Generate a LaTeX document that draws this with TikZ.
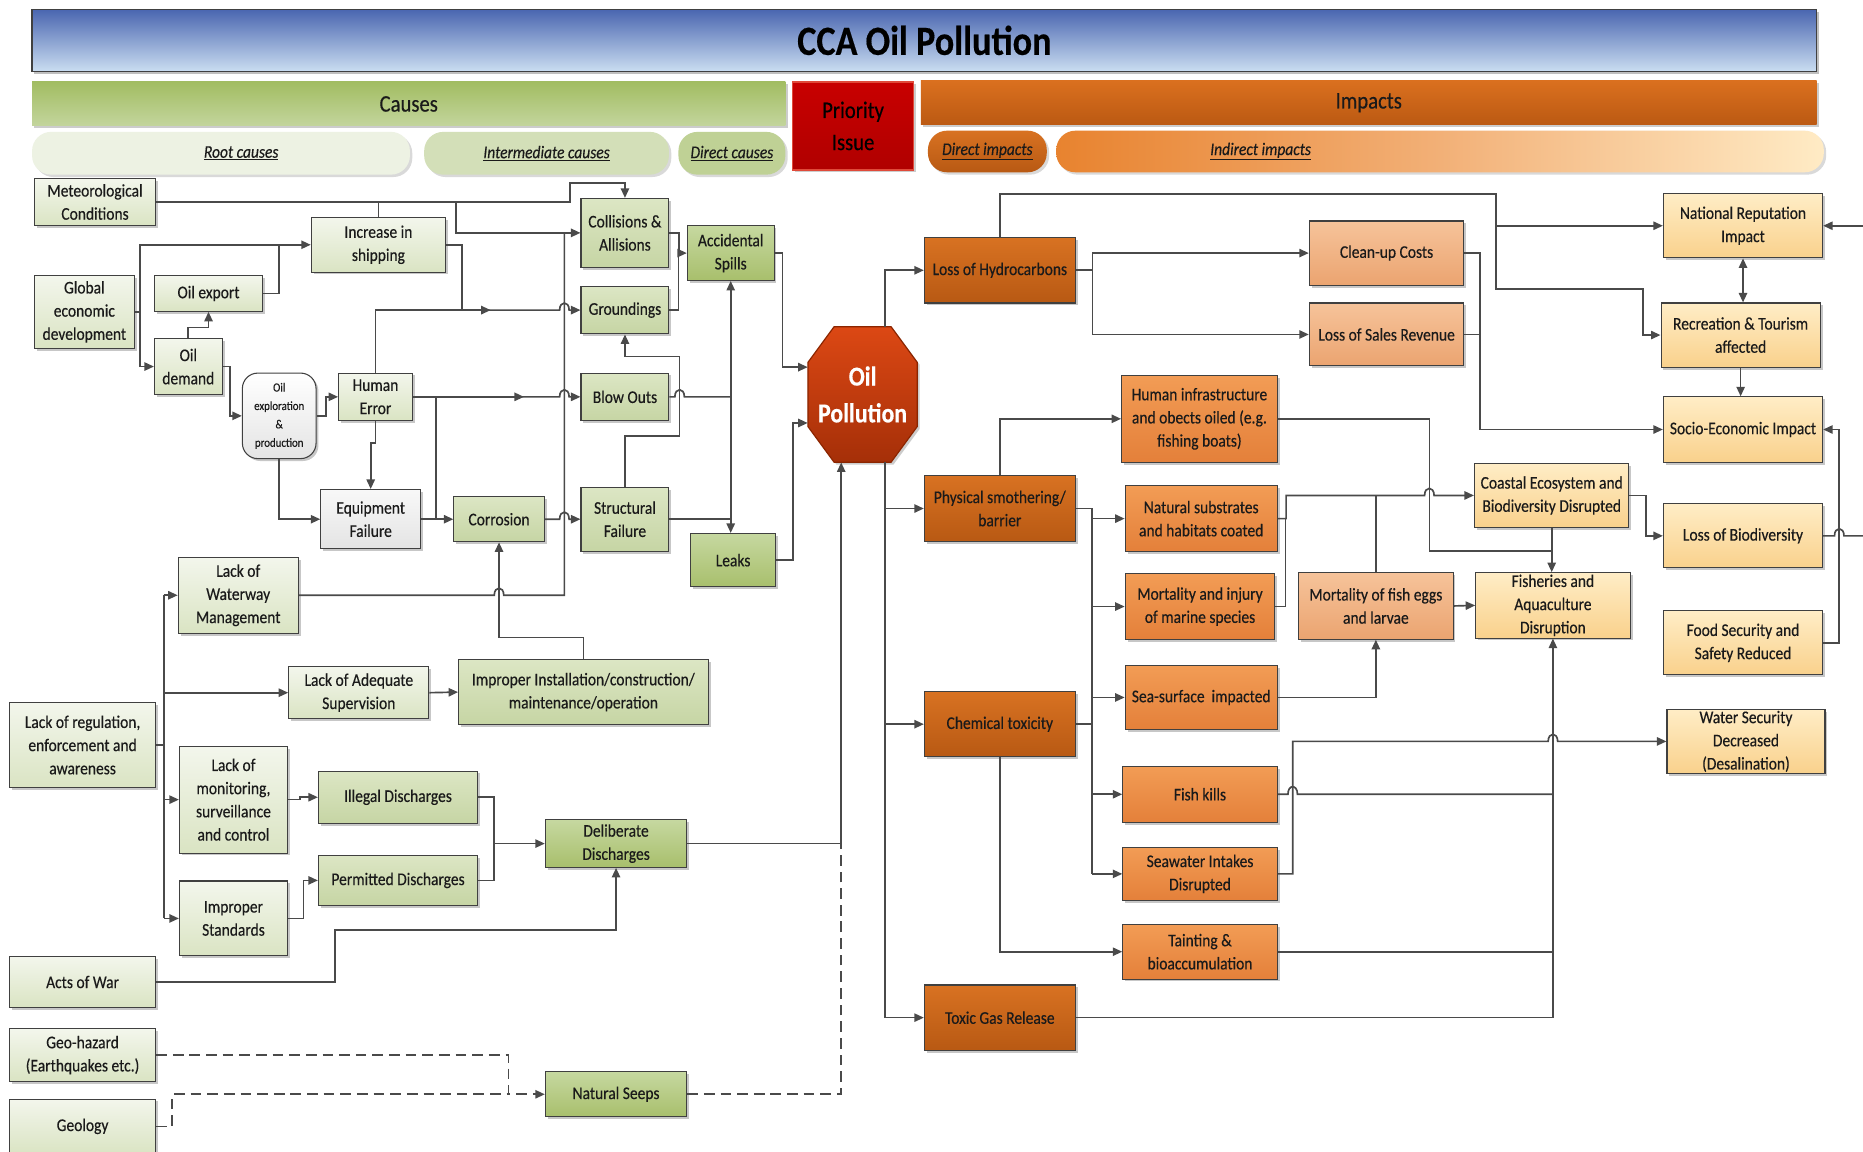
\documentclass[tikz,border=0pt]{standalone}
\usepackage{fontspec}
\setmainfont{Carlito}[FakeStretch=0.87,FakeBold=0.35]
\usetikzlibrary{arrows.meta,shadows}
\definecolor{bord}{HTML}{404040}
\definecolor{lin}{HTML}{4A4A4A}
\definecolor{txt}{HTML}{1A1A1A}
\definecolor{rootT}{HTML}{F3F6EC}
\definecolor{rootB}{HTML}{DAE4C3}
\definecolor{interT}{HTML}{DCE6C4}
\definecolor{interB}{HTML}{C6D5A4}
\definecolor{dirT}{HTML}{C6D8A0}
\definecolor{dirB}{HTML}{A8BF6C}
\definecolor{grayT}{HTML}{F8F8F8}
\definecolor{grayB}{HTML}{E4E4E4}
\definecolor{dimpT}{HTML}{D87222}
\definecolor{dimpB}{HTML}{B85913}
\definecolor{medT}{HTML}{F29C55}
\definecolor{medB}{HTML}{E4803A}
\definecolor{lgtT}{HTML}{F6C39A}
\definecolor{lgtB}{HTML}{EBA470}
\definecolor{yelT}{HTML}{FFEDC6}
\definecolor{yelB}{HTML}{F9D18C}
\definecolor{titT}{HTML}{4A66B0}
\definecolor{titB}{HTML}{CADDF1}
\definecolor{causT}{HTML}{A2BD62}
\definecolor{causB}{HTML}{C3D59D}
\definecolor{impT}{HTML}{DA701F}
\definecolor{impB}{HTML}{BB5912}
\definecolor{priT}{HTML}{C80000}
\definecolor{priB}{HTML}{B00000}
\definecolor{pribord}{HTML}{E04A3A}
\definecolor{pillroot}{HTML}{EDF2E3}
\definecolor{pillint}{HTML}{D3DFB8}
\definecolor{pilldir}{HTML}{BFD195}
\definecolor{indL}{HTML}{E8832F}
\definecolor{indM}{HTML}{F2B077}
\definecolor{indR}{HTML}{FFEBC5}
\definecolor{octT}{HTML}{DC4814}
\definecolor{octB}{HTML}{A52F08}
\definecolor{octbord}{HTML}{8B2500}
\newcommand{\boxfnt}{\fontsize{15}{19.5}\selectfont}
\newcommand{\smallfnt}{\fontsize{10.5}{15.5}\selectfont}
\tikzset{
  base/.style={draw=bord, line width=0.9pt, align=center, inner sep=1pt, text=txt, font=\boxfnt,
    drop shadow={shadow xshift=2pt, shadow yshift=-2pt, opacity=0.22, fill=black}},
  sz/.style 2 args={minimum width=#1pt, minimum height=#2pt},
  root/.style={base, top color=rootT, bottom color=rootB},
  inter/.style={base, top color=interT, bottom color=interB},
  direct/.style={base, top color=dirT, bottom color=dirB},
  grayb/.style={base, top color=grayT, bottom color=grayB},
  dimp/.style={base, top color=dimpT, bottom color=dimpB},
  med/.style={base, top color=medT, bottom color=medB},
  lgt/.style={base, top color=lgtT, bottom color=lgtB},
  yel/.style={base, top color=yelT, bottom color=yelB},
  pill/.style={rounded corners=16pt, inner sep=0pt,
    drop shadow={shadow xshift=2pt, shadow yshift=-2pt, opacity=0.15, fill=black}},
  plabel/.style={font=\fontsize{15}{18}\selectfont\itshape, text=txt, inner sep=0pt},
  conn/.style={draw=lin, line width=1.4pt},
  arr/.style={-{Triangle[length=8pt,width=7pt]}},
  darr/.style={{Triangle[length=8pt,width=7pt]}-{Triangle[length=8pt,width=7pt]}},
  dashln/.style={dash pattern=on 9pt off 5pt}
}
\begin{document}
\begin{tikzpicture}[x=1pt,y=-1pt]
\useasboundingbox (0,0) rectangle (1568,969);
\clip (0,0) rectangle (1568,969);
\fill[white] (0,0) rectangle (1568,969);

% ---------- header ----------
\node[draw=bord, line width=1pt, top color=titT, bottom color=titB, sz={1502}{52},
  drop shadow={shadow xshift=2pt, shadow yshift=-2pt, opacity=0.25, fill=black},
  font=\fontsize{35}{40}\selectfont\bfseries, text=black] (title) at (778,34) {CCA Oil Pollution};
\node[top color=causT, bottom color=causB, sz={634}{37}, font=\fontsize{20}{24}\selectfont, text=txt,
  drop shadow={shadow xshift=2pt, shadow yshift=-2pt, opacity=0.2, fill=black}] (causes) at (344,87.5) {\raisebox{-2pt}{Causes}};
\node[draw=pribord, line width=1pt, top color=priT, bottom color=priB, sz={102}{74},
  drop shadow={shadow xshift=2pt, shadow yshift=-2pt, opacity=0.2, fill=black}] (priority) at (718,106) {};
\node[align=center, font=\fontsize{20}{27}\selectfont, text=black, inner sep=0pt] (prilbl) at (priority.center) {Priority\\Issue};
\node[top color=impT, bottom color=impB, sz={754}{37}, font=\fontsize{20}{24}\selectfont, text=txt,
  drop shadow={shadow xshift=2pt, shadow yshift=-2pt, opacity=0.2, fill=black}] (impacts) at (1152,86.5) {\raisebox{-2pt}{Impacts}};

\node[pill, fill=pillroot, sz={318}{36}] (rootpill) at (186,129) {};
\node[plabel] (rootlbl) at (203,129) {\underline{Root causes}};
\node[pill, fill=pillint, sz={206}{36}, plabel] (intpill) at (460,129) {\underline{Intermediate causes}};
\node[pill, fill=pilldir, sz={90}{36}, plabel] (dirpill) at (616,129) {\underline{Direct causes}};
\node[pill, top color=dimpT, bottom color=dimpB, sz={100}{35}, plabel] (dimppill) at (831,127.5) {\underline{Direct impacts}};
\node[pill, left color=indL, right color=indR, middle color=indM, sz={646}{35}] (indpill) at (1212,127.5) {};
\node[plabel] (indlbl) at (1061,127.5) {\underline{Indirect impacts}};

% ---------- causes ----------
\node[root, sz={102}{40}] (met) at (80,170) {Meteorological\\Conditions};
\node[root, sz={84}{61}] (global) at (71,262.5) {Global\\economic\\development};
\node[root, sz={91}{30}] (export) at (175.5,247) {Oil export};
\node[root, sz={57}{47}] (demand) at (158.5,308.5) {Oil\\demand};
\node[base, top color=white, bottom color=grayB, rounded corners=13pt, sz={62}{72}, font=\smallfnt] (explo) at (235,350) {Oil\\exploration\\\&\\production};
\node[root, sz={113}{46}] (shipping) at (318.5,206) {Increase in\\shipping};
\node[root, sz={62}{40}] (human) at (316,334) {Human\\Error};
\node[grayb, sz={84}{50}] (equip) at (312,437) {Equipment\\Failure};
\node[inter, sz={76}{38}] (corrosion) at (420,437) {Corrosion};
\node[inter, sz={74}{58}] (collisions) at (526,196) {Collisions \&\\Allisions};
\node[inter, sz={74}{40}] (groundings) at (526,261) {Groundings};
\node[inter, sz={74}{40}] (blowouts) at (526,334) {Blow Outs};
\node[inter, sz={74}{54}] (structural) at (526,437) {Structural\\Failure};
\node[direct, sz={73}{46}] (spills) at (615,213) {Accidental\\Spills};
\node[direct, sz={71}{45}] (leaks) at (617,471.5) {Leaks};
\node[root, sz={101}{64}] (waterway) at (200.5,501) {Lack of\\Waterway\\Management};
\node[root, sz={123}{72}] (regulation) at (69.5,627) {Lack of regulation,\\enforcement and\\awareness};
\node[root, sz={118}{44}] (supervision) at (302,583) {Lack of Adequate\\Supervision};
\node[inter, sz={210}{55}] (install) at (491,582.5) {Improper Installation/construction/\\maintenance/operation};
\node[root, sz={91}{90}] (monitoring) at (196.5,673) {Lack of\\monitoring,\\surveillance\\and control};
\node[inter, sz={134}{44}] (illegal) at (335,671) {Illegal Discharges};
\node[inter, sz={134}{42}] (permitted) at (335,741) {Permitted Discharges};
\node[root, sz={91}{63}] (standards) at (196.5,773) {Improper\\Standards};
\node[direct, sz={119}{40}] (deliberate) at (518.5,710) {Deliberate\\Discharges};
\node[root, sz={123}{43}] (war) at (69.5,826.5) {Acts of War};
\node[root, sz={123}{44}] (geohazard) at (69.5,888) {Geo-hazard\\(Earthquakes etc.)};
\node[root, sz={123}{46}] (geology) at (69.5,948) {Geology};
\node[direct, sz={119}{38}] (seeps) at (518.5,921) {Natural Seeps};

% ---------- oil pollution ----------
\path[draw=octbord, line width=1pt, top color=octT, bottom color=octB,
  drop shadow={shadow xshift=2pt, shadow yshift=-2pt, opacity=0.2, fill=black}]
  (702,275) -- (750,275) -- (772,305) -- (772,359) -- (750,389) -- (702,389) -- (680,359) -- (680,305) -- cycle;
\node[font=\fontsize{23}{31}\selectfont\bfseries, text=white, sz={92}{114}, inner sep=0pt, align=center] (oil) at (726,332) {Oil\\Pollution};

% ---------- impacts ----------
\node[dimp, sz={127}{55}] (lossHC) at (841.5,227.5) {Loss of Hydrocarbons};
\node[dimp, sz={127}{56}] (physical) at (841.5,428) {Physical smothering/\\barrier};
\node[dimp, sz={127}{55}] (chemical) at (841.5,609.5) {Chemical toxicity};
\node[dimp, sz={127}{55}] (toxicgas) at (841.5,856.5) {Toxic Gas Release};
\node[med, sz={131}{73}] (humaninfra) at (1009.5,352.5) {Human infrastructure\\and obects oiled (e.g.\\fishing boats)};
\node[med, sz={128}{55}] (substrates) at (1011,436.5) {Natural substrates\\and habitats coated};
\node[med, sz={126}{55}] (mortality) at (1010,510.5) {Mortality and injury\\of marine species};
\node[med, sz={128}{54}] (seasurface) at (1011,587) {Sea-surface\ \ impacted};
\node[med, sz={130}{47}] (fishkills) at (1010,668.5) {Fish kills};
\node[med, sz={130}{45}] (seawater) at (1010,735.5) {Seawater Intakes\\Disrupted};
\node[med, sz={130}{46}] (tainting) at (1010,801) {Tainting \&\\bioaccumulation};
\node[lgt, sz={130}{54}] (cleanup) at (1167,213) {Clean-up Costs};
\node[lgt, sz={130}{53}] (sales) at (1167,281.5) {Loss of Sales Revenue};
\node[lgt, sz={130}{56}] (eggs) at (1158,510) {Mortality of fish eggs\\and larvae};
\node[yel, sz={134}{54}] (natrep) at (1467,190) {National Reputation\\Impact};
\node[yel, sz={134}{54}] (recreation) at (1465,282) {Recreation \& Tourism\\affected};
\node[yel, sz={134}{55}] (socio) at (1467,361.5) {Socio-Economic Impact};
\node[yel, sz={130}{54}] (coastal) at (1306,417) {Coastal Ecosystem and\\Biodiversity Disrupted};
\node[yel, sz={134}{54}] (biodiv) at (1467,451) {Loss of Biodiversity};
\node[yel, sz={130}{55}] (fisheries) at (1307,509.5) {Fisheries and\\Aquaculture\\Disruption};
\node[yel, sz={134}{54}] (food) at (1467,541) {Food Security and\\Safety Reduced};
\node[yel, sz={133}{54}] (water) at (1469.5,624) {Water Security\\Decreased\\(Desalination)};

\coordinate (edgeA) at (1568,190);
\coordinate (edgeB) at (1568,451);

% ---------- cause connectors ----------
\draw[conn,arr] (met.east) -| (480,154) -| (collisions.north);
\draw[conn] (shipping.north) -- (shipping.north |- met.east);
\draw[conn,arr] (384,170) |- (collisions.west);
\draw[conn] (waterway.east) -- (416,501) .. controls (416,493) and (424,493) .. (424,501) -- (475,501) -- (475,196);
\draw[conn] (shipping.east) -| (389,261);
\draw[conn] (human.north) |- (389,261);
\draw[conn,arr] (389,261) -- (471,261) .. controls (471,253) and (479,253) .. (479,261) -- (groundings.west);
\draw[conn,arr] (389,261) -- (413,261);
\draw[conn,arr] (global.east) -- (118,262.5) |- (shipping.west);
\draw[conn,arr] (118,262.5) |- (demand.west);
\draw[conn] (export.east) -| (235,206);
\draw[conn,arr] (demand.north) -- ++(0,-9) -| (export.south);
\draw[conn,arr] (demand.east) -- ++(6,0) |- (explo.west);
\draw[conn,arr] (explo.east) -- ++(8,0) |- (human.west);
\draw[conn,arr] (explo.south) |- (equip.west);
\draw[conn,arr] (human.south) -- (316,373) -- (312,373) -- (equip.north);
\draw[conn,arr] (human.east) -- (471,334) .. controls (471,326) and (479,326) .. (479,334) -- (blowouts.west);
\draw[conn,arr] (human.east) -- (441,334);
\draw[conn,arr] (367,334) |- (corrosion.west);
\draw[conn] (equip.east) -- (367,437);
\draw[conn,arr] (corrosion.east) -- (471,437) .. controls (471,429) and (479,429) .. (479,437) -- (structural.west);
\draw[conn,arr] (install.north) -- ++(0,-18) -| (corrosion.south);
\draw[conn,arr] (collisions.east) -- ++(8,0) |- (spills.west);
\draw[conn] (groundings.east) -| (571,213);
\draw[conn] (blowouts.east) -- (568,334) .. controls (568,326) and (576,326) .. (576,334) -- (615,334);
\draw[conn,arr] (615,334) -- (spills.south);
\draw[conn,arr] (615,334) -- (spills.south |- leaks.north);
\draw[conn] (structural.east) -- (615,437);
\draw[conn,arr] (structural.north) -- (526,367) -- (572,367) -- (572,300) -- (526,300) -- (groundings.south);
\draw[conn,arr] (spills.east) -- ++(6.5,0) |- ([yshift=23pt]oil.west);
\draw[conn,arr] (leaks.east) -- ++(14.5,0) |- ([yshift=-24pt]oil.west);
\draw[conn,arr] (deliberate.east) -- (708,710) -- ([xshift=-18pt]oil.south);
\draw[conn,dashln] (seeps.east) -- (708,921) -- (708,710);
\draw[conn,dashln,arr] (geohazard.east) -- (428,888) |- (seeps.west);
\draw[conn,dashln] (geology.east) -- (145,948) |- (428,921);
\draw[conn] (regulation.east) -- (138,627);
\draw[conn] (138,501) -- (138,773);
\draw[conn,arr] (138,501) -- (waterway.west);
\draw[conn,arr] (138,583) -- (supervision.west);
\draw[conn,arr] (138,673) -- (monitoring.west);
\draw[conn,arr] (138,773) -- (standards.west);
\draw[conn,arr] (supervision.east) -- (install.west);
\draw[conn,arr] (monitoring.east) -- ++(10,0) |- (illegal.west);
\draw[conn,arr] (standards.east) -- ++(13,0) |- (permitted.west);
\draw[conn] (illegal.east) -| (416,741) -- (permitted.east);
\draw[conn,arr] (416,710) -- (deliberate.west);
\draw[conn,arr] (war.east) -| (282,783) -| (deliberate.south);

% ---------- impact connectors ----------
\draw[conn,arr] ([xshift=19pt]oil.north) |- (lossHC.west);
\draw[conn,arr] ([xshift=19pt]oil.south) |- (toxicgas.west);
\draw[conn,arr] (745,428) -- (physical.west);
\draw[conn,arr] (745,609.5) -- (chemical.west);
\draw[conn,arr] (lossHC.east) -- ++(14,0) |- (cleanup.west);
\draw[conn,arr] (lossHC.east) -- ++(14,0) |- (sales.west);
\draw[conn,arr] (lossHC.north) |- (1259,163) |- (natrep.west);
\draw[conn,arr] (1259,190) |- (1383,243) |- (recreation.west);
\draw[conn,arr] (cleanup.east) -- ++(13,0) |- (socio.west);
\draw[conn] (sales.east) -- ++(13,0);
\draw[conn,darr] (natrep.south) -- (natrep.south |- recreation.north);
\draw[conn,arr] (recreation.south) -- (recreation.south |- socio.north);
\draw[conn,arr] (edgeA) -- (natrep.east);
\draw[conn,arr] (food.east) -- (1548,541) |- (socio.east);
\draw[conn] (biodiv.east) -- (1544,451) .. controls (1544,443) and (1552,443) .. (1552,451) -- (edgeB);
\draw[conn,arr] (coastal.east) -- ++(14,0) |- (biodiv.west);
\draw[conn,arr] (coastal.south) -- (coastal.south |- fisheries.north);
\draw[conn] (humaninfra.east) -| (1203,464) -- (1306,464);
\draw[conn,arr] (substrates.east) -- ++(7,0) |- (1199,417) .. controls (1199,409) and (1207,409) .. (1207,417) -- (coastal.west);
\draw[conn] (mortality.east) -| (1082,436.5);
\draw[conn] (eggs.north) -- (eggs.north |- coastal.west);
\draw[conn,arr] (eggs.east) -- (fisheries.west);
\draw[conn,arr] (seasurface.east) -| (eggs.south);
\draw[conn,arr] (physical.north) |- (humaninfra.west);
\draw[conn] (physical.east) -- (919,428) -- (919,735.5);
\draw[conn,arr] (919,436.5) -- (substrates.west);
\draw[conn,arr] (919,510.5) -- (mortality.west);
\draw[conn,arr] (919,587) -- (seasurface.west);
\draw[conn,arr] (919,668.5) -- (fishkills.west);
\draw[conn,arr] (919,735.5) -- (seawater.west);
\draw[conn] (chemical.east) -- (919,609.5);
\draw[conn,arr] (chemical.south) |- (tainting.west);
\draw[conn] (fishkills.east) -- (1084,668.5) .. controls (1084,660) and (1092,660) .. (1092,668.5) -- (1307,668.5);
\draw[conn,arr] (seawater.east) -- (1088,735.5) -- (1088,624) -- (1303,624) .. controls (1303,616) and (1311,616) .. (1311,624) -- (water.west);
\draw[conn] (tainting.east) -- (1307,801);
\draw[conn,arr] (toxicgas.east) -- (1307,856.5) -- (fisheries.south);
\end{tikzpicture}
\end{document}
